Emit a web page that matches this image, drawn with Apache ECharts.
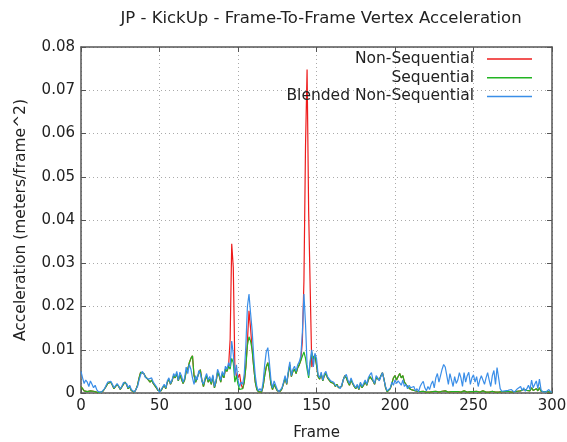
<!DOCTYPE html>
<html>
<head>
<meta charset="utf-8">
<script src="https://cdn.jsdelivr.net/npm/echarts@6/dist/echarts.min.js"></script>
<style>
  html, body { margin: 0; padding: 0; background: #fff; }
  #chart { width: 567px; height: 442px; }
</style>
</head>
<body>
<div id="chart"></div>
<script>
// values are in units of 0.0001 meters/frame^2, one per frame 0..300
var nonSequential = [
  15, 10, 5, 8, 3, 2, 5, 8, 4, 2,
  2, 1, 1, 2, 4, 8, 15, 22, 26, 25,
  18, 10, 12, 20, 15, 8, 12, 20, 25, 20,
  10, 15, 6, 3, 2, 8, 18, 35, 48, 52,
  45, 38, 35, 30, 25, 30, 22, 18, 12, 6,
  2, 5, 12, 18, 10, 25, 32, 20, 28, 40,
  35, 45, 28, 42, 38, 22, 30, 50, 55, 70,
  80, 86, 40, 25, 35, 45, 54, 30, 15, 30,
  40, 25, 32, 20, 38, 12, 25, 48, 40, 25,
  45, 35, 55, 50, 62, 125, 345, 290, 60, 40,
  35, 44, 20, 10, 25, 60, 120, 190, 150, 100,
  60, 25, 8, 3, 6, 2, 15, 40, 60, 70,
  50, 20, 8, 20, 12, 5, 2, 4, 10, 22,
  35, 20, 45, 65, 38, 50, 55, 45, 58, 65,
  75, 120, 260, 570, 748, 420, 240, 60, 80, 88,
  65, 38, 32, 44, 28, 40, 45, 35, 38, 25,
  28, 22, 15, 20, 12, 8, 15, 30, 40, 35,
  25, 18, 30, 22, 15, 10, 18, 8, 22, 12,
  18, 26, 18, 30, 38, 42, 28, 20, 35, 38,
  30, 40, 47, 32, 12, 3, 1, 10, 22, 35,
  40, 30, 38, 45, 35, 40, 25, 28, 15, 12,
  8, 5, 6, 3, 4, 2, 3, 5, 4, 2,
  2, 3, 2, 4, 3, 2, 4, 3, 2, 3,
  4, 3, 5, 3, 2, 4, 3, 2, 3, 2,
  3, 4, 2, 3, 5, 3, 2, 4, 3, 2,
  3, 2, 4, 3, 2, 3, 5, 3, 2, 3,
  2, 3, 4, 3, 2, 3, 2, 4, 3, 2,
  3, 2, 4, 3, 2, 5, 3, 2, 4, 3,
  5, 3, 8, 4, 6, 10, 5, 12, 6, 8,
  10, 5, 12, 4, 2, 3, 2, 3, 5, 2,
  2
];

var sequential = [
  15, 10, 5, 8, 3, 2, 5, 8, 4, 2,
  2, 1, 1, 2, 4, 8, 15, 22, 26, 25,
  18, 10, 12, 20, 15, 8, 12, 20, 25, 20,
  10, 15, 6, 3, 2, 8, 18, 35, 48, 52,
  45, 38, 35, 30, 25, 30, 22, 18, 12, 6,
  2, 5, 12, 18, 10, 25, 32, 20, 28, 40,
  35, 45, 28, 42, 38, 22, 30, 50, 55, 70,
  80, 86, 40, 25, 35, 45, 54, 30, 15, 30,
  40, 25, 32, 20, 38, 12, 25, 48, 40, 25,
  45, 35, 55, 50, 62, 55, 80, 70, 25, 40,
  20, 8, 12, 10, 25, 60, 110, 130, 120, 100,
  60, 25, 8, 3, 6, 2, 15, 40, 60, 70,
  50, 20, 8, 20, 12, 5, 2, 4, 10, 22,
  35, 20, 45, 65, 38, 50, 55, 45, 58, 65,
  75, 85, 95, 80, 55, 35, 70, 94, 80, 88,
  65, 38, 32, 44, 28, 40, 45, 35, 38, 25,
  28, 22, 15, 20, 12, 8, 15, 30, 40, 35,
  25, 18, 30, 22, 15, 10, 18, 8, 22, 12,
  18, 26, 18, 30, 38, 42, 28, 20, 35, 38,
  30, 40, 47, 32, 12, 3, 1, 10, 22, 35,
  40, 30, 38, 45, 35, 40, 25, 28, 15, 12,
  8, 5, 6, 3, 4, 2, 3, 5, 4, 2,
  2, 3, 2, 4, 3, 2, 4, 3, 2, 3,
  4, 3, 5, 3, 2, 4, 3, 2, 3, 2,
  3, 4, 2, 3, 5, 3, 2, 4, 3, 2,
  3, 2, 4, 3, 2, 3, 5, 3, 2, 3,
  2, 3, 4, 3, 2, 3, 2, 4, 3, 2,
  3, 2, 4, 3, 2, 5, 3, 2, 4, 3,
  5, 3, 8, 4, 6, 10, 5, 12, 6, 8,
  10, 5, 12, 4, 2, 3, 2, 3, 5, 2,
  2
];

var blendedNonSequential = [
  50, 35, 22, 30, 25, 15, 28, 20, 12, 18,
  8, 3, 1, 2, 5, 10, 18, 25, 28, 27,
  20, 12, 15, 22, 18, 10, 15, 24, 28, 22,
  12, 18, 8, 4, 2, 6, 15, 30, 42, 50,
  45, 36, 40, 32, 28, 35, 25, 20, 15, 8,
  2, 6, 14, 20, 12, 28, 35, 22, 30, 45,
  38, 50, 30, 48, 40, 25, 35, 60, 45, 66,
  55, 35, 20, 40, 30, 52, 45, 28, 20, 35,
  45, 30, 38, 25, 42, 15, 30, 55, 45, 30,
  50, 40, 62, 55, 70, 60, 120, 90, 40, 65,
  30, 15, 25, 20, 45, 110, 200, 229, 185, 145,
  85, 40, 15, 5, 10, 4, 25, 65, 95, 105,
  70, 30, 12, 28, 18, 8, 3, 6, 12, 25,
  40, 22, 50, 72, 40, 55, 62, 50, 65, 72,
  85, 140, 229, 160, 65, 40, 75, 100, 60, 92,
  80, 43, 35, 48, 30, 45, 50, 38, 42, 28,
  32, 25, 18, 22, 15, 10, 18, 30, 38, 43,
  30, 22, 35, 25, 18, 12, 20, 10, 25, 15,
  22, 30, 20, 35, 42, 47, 30, 22, 40, 35,
  28, 38, 47, 30, 15, 5, 2, 12, 25, 18,
  30, 22, 28, 25, 18, 30, 15, 20, 10, 18,
  12, 8, 15, 5, 10, 3, 15, 22, 27, 12,
  5, 15, 8, 20, 28, 12, 35, 45, 25, 40,
  55, 66, 60, 40, 20, 45, 30, 15, 38, 22,
  30, 47, 35, 15, 47, 25, 40, 48, 20, 35,
  42, 25, 38, 15, 30, 40, 44, 20, 35, 47,
  30, 15, 40, 52, 20, 59, 35, 10, 4, 3,
  5, 2, 6, 3, 8, 4, 2, 6, 10, 8,
  15, 6, 12, 4, 10, 18, 8, 30, 12, 20,
  28, 10, 32, 8, 3, 5, 2, 4, 8, 3,
  2
];

var seriesNames = ['Non-Sequential', 'Sequential', 'Blended Non-Sequential'];
var seriesColors = ['#ee1c1c', '#22b422', '#3a8ee8'];
var xTicks = [0, 50, 100, 150, 200, 250, 300];
var yTicks = [0, 0.01, 0.02, 0.03, 0.04, 0.05, 0.06, 0.07, 0.08];

function toPoints(arr) {
    return arr.map(function (v, i) { return [i, v / 10000]; });
}

var font = 'DejaVu Sans';
var chart = echarts.init(document.getElementById('chart'), null, {renderer: 'canvas'});

var boxLine = {show: true, onZero: false, lineStyle: {color: '#555', width: 1.5}};
var tick = {show: true, inside: true, length: 5, lineStyle: {color: '#555', width: 1}};

var option = {
    animation: false,
    backgroundColor: '#fff',
    graphic: [{
        type: 'text',
        x: 321, y: 10,
        style: {
            text: 'JP - KickUp - Frame-To-Frame Vertex Acceleration',
            font: '16.5px "' + font + '"',
            fill: '#222',
            align: 'center',
            textAlign: 'center'
        }
    }],
    legend: seriesNames.map(function (name, i) {
        return {
            data: [name],
            right: 35,
            top: 51 + i * 18.7,
            align: 'right',
            icon: 'rect',
            itemWidth: 45,
            itemHeight: 1.5,
            itemGap: 0,
            padding: 0,
            selectedMode: false,
            textStyle: {fontFamily: font, fontSize: 15.5, color: '#222', padding: [0, 8, 0, 0]}
        };
    }),
    grid: {left: 81, right: 15, top: 47, bottom: 49, outerBoundsMode: 'none'},
    xAxis: [{
        type: 'value',
        min: 0, max: 300, interval: 50,
        name: 'Frame',
        nameLocation: 'middle',
        nameGap: 33,
        nameTextStyle: {fontFamily: font, fontSize: 15, color: '#222'},
        axisLine: boxLine,
        axisTick: tick,
        axisLabel: {fontFamily: font, fontSize: 15, color: '#222', margin: 6,
            customValues: xTicks},
        splitLine: {show: true, lineStyle: {color: '#aaa', type: [1, 3], width: 1}}
    }, {
        type: 'value', position: 'top',
        min: 0, max: 300, interval: 50,
        axisLine: boxLine, axisTick: tick,
        axisLabel: {show: false}, splitLine: {show: false}
    }],
    yAxis: [{
        type: 'value',
        min: 0, max: 0.08, interval: 0.01,
        name: 'Acceleration (meters/frame^2)',
        nameLocation: 'middle',
        nameGap: 52,
        nameTextStyle: {fontFamily: font, fontSize: 15.5, color: '#222'},
        axisLine: boxLine,
        axisTick: tick,
        axisLabel: {
            fontFamily: font, fontSize: 15, color: '#222', margin: 6,
            customValues: yTicks,
            formatter: function (v) { return v === 0 ? '0' : v.toFixed(2); }
        },
        splitLine: {show: true, lineStyle: {color: '#aaa', type: [1, 3], width: 1}}
    }, {
        type: 'value', position: 'right',
        min: 0, max: 0.08, interval: 0.01,
        axisLine: boxLine, axisTick: tick,
        axisLabel: {show: false}, splitLine: {show: false}
    }],
    series: [nonSequential, sequential, blendedNonSequential].map(function (arr, i) {
        return {
            name: seriesNames[i],
            type: 'line',
            data: toPoints(arr),
            showSymbol: false,
            color: seriesColors[i],
            lineStyle: {width: 1.2, color: seriesColors[i]},
            z: 2 + i
        };
    })
};

chart.setOption(option);
</script>
</body>
</html>
